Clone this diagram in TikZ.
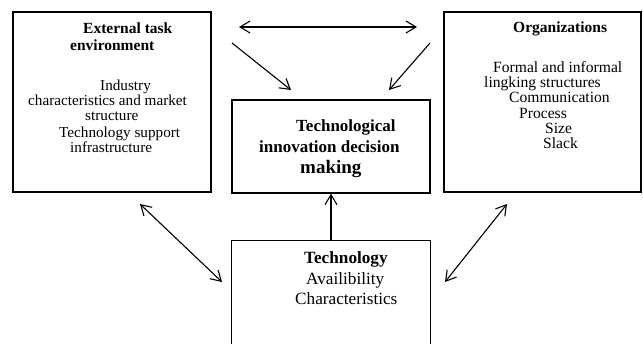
\documentclass[tikz,border=0pt]{standalone}
\usepackage{fontspec}
\setmainfont{Liberation Serif}
\usetikzlibrary{arrows.meta}
\begin{document}
\begin{tikzpicture}[x=1pt,y=-1pt,
  box/.style={draw=black, line width=1.2pt, inner sep=0pt},
  txt/.style={anchor=base west, inner sep=0pt, font=\fontsize{15.2}{15}\selectfont},
  btxt/.style={anchor=base west, inner sep=0pt, font=\fontsize{15.5}{15}\selectfont\bfseries},
  ctxt/.style={anchor=base west, inner sep=0pt, font=\fontsize{17}{17}\selectfont\bfseries},
  ttxt/.style={anchor=base west, inner sep=0pt, font=\fontsize{17.2}{17}\selectfont},
  barb/.tip={Straight Barb[length=10pt,width=12pt]},
  arr/.style={line width=1.1pt, -barb},
  dbl/.style={line width=1.1pt, barb-barb}]
\fill[white] (0,0) rectangle (643,343);
\useasboundingbox (0,0) rectangle (643,343);
% boxes
\node[box, minimum width=198pt, minimum height=180pt] (ext) at (112,102) {};
\node[box, minimum width=197pt, minimum height=180pt] (org) at (542.5,102) {};
\node[box, minimum width=198pt, minimum height=93pt] (dec) at (331,146.5) {};
\node[inner sep=0pt, minimum width=198pt, minimum height=110pt] (tech) at (331,296) {};
\draw[line width=1.2pt] (tech.south west) -- (tech.north west) -- (tech.north east) -- (tech.south east);
% left texts
\node[btxt] (e1) at (83,33) {External task};
\node[btxt] (e2) at (70,50) {environment};
\node[txt] (e3) at (100,90) {Industry};
\node[txt] (e4) at (28,105) {characteristics and market};
\node[txt] (e5) at (85,120) {structure};
\node[txt] (e6) at (59,137) {Technology support};
\node[txt] (e7) at (70,152) {infrastructure};
% right texts
\node[btxt] (o1) at (513,32) {Organizations};
\node[txt, font=\fontsize{15.6}{15}\selectfont] (o2) at (493,72) {Formal and informal};
\node[txt, font=\fontsize{15.6}{15}\selectfont] (o3) at (484,87) {lingking structures};
\node[txt, font=\fontsize{15.6}{15}\selectfont] (o4) at (509,102) {Communication};
\node[txt, font=\fontsize{15.6}{15}\selectfont] (o5) at (519,118) {Process};
\node[txt, font=\fontsize{15.6}{15}\selectfont] (o6) at (545,133) {Size};
\node[txt, font=\fontsize{15.6}{15}\selectfont] (o7) at (543,148) {Slack};
% centre texts
\node[ctxt] (d1) at (296,131) {Technological};
\node[ctxt] (d2) at (259,152) {innovation decision};
\node[anchor=base west, inner sep=0pt, font=\fontsize{19}{19}\selectfont\bfseries] (d3) at (300,173) {making};
% bottom texts
\node[ttxt, font=\fontsize{17.2}{17}\selectfont\bfseries] (t1) at (304,263) {Technology};
\node[ttxt] (t2) at (306,284) {Availibility};
\node[ttxt] (t3) at (295,304) {Characteristics};
% connector end points
\coordinate (h1) at (239,27);
\coordinate (h2) at (417,27);
\coordinate (l1) at (232,43);
\coordinate (l2) at (291,90);
\coordinate (r1) at (430,43);
\coordinate (r2) at (389,90);
\coordinate (bl1) at (140,204);
\coordinate (bl2) at (222,282);
\coordinate (br1) at (507,204);
\coordinate (br2) at (445,282);
% connectors
\draw[dbl] (h1) -- (h2);
\draw[arr] (l1) -- (l2);
\draw[arr] (r1) -- (r2);
\draw[arr] (tech.north) -- (dec.south);
\draw[dbl] (bl1) -- (bl2);
\draw[dbl] (br1) -- (br2);
\end{tikzpicture}
\end{document}
